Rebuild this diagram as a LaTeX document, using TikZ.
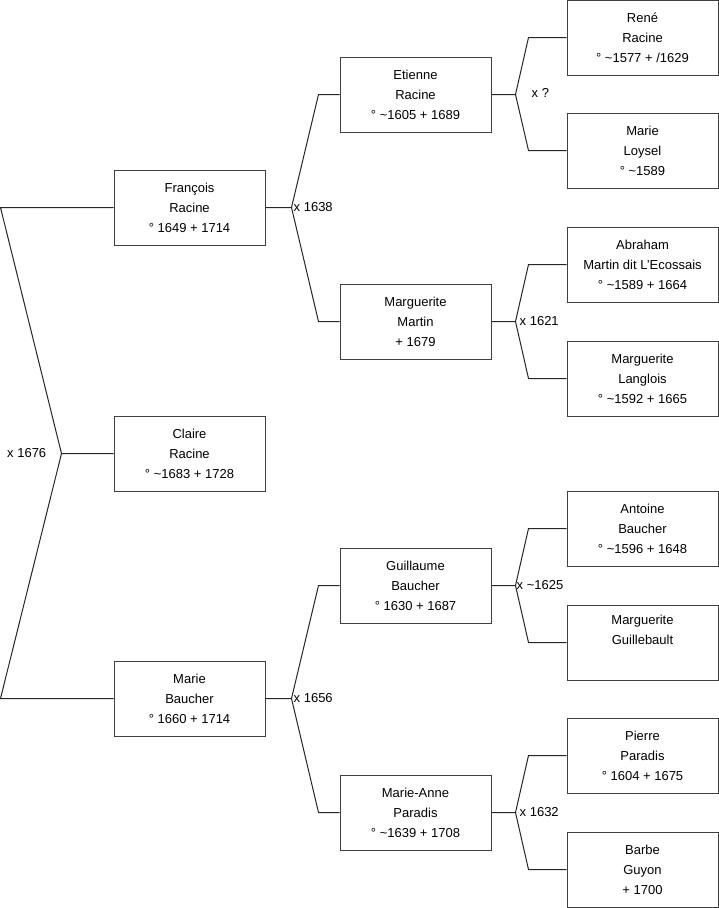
\documentclass[tikz,border=0pt]{standalone}
\usepackage{fontspec}
\setmainfont{Liberation Sans}
\usetikzlibrary{positioning}
\tikzset{
  person/.style={draw=black!75, line width=1pt, fill=white, minimum width=151pt, minimum height=75pt, inner sep=0pt, align=center, font=\fontsize{13}{20}\selectfont},
  link/.style={draw=black!85, line width=1pt},
  marriage/.style={anchor=west, inner sep=1pt, font=\fontsize{13}{16}\selectfont}
}

\begin{document}
\begin{tikzpicture}[x=1pt, y=-1pt]
  \useasboundingbox (0,0) rectangle (719,908);

  % Claire and her parents
  \node[person] (claire) at (189.5,453.5) {Claire\\Racine\\° \textasciitilde1683 + 1728};
  \node[person] (francois) at (189.5,207.5) {François\\Racine\\° 1649 + 1714};
  \node[person] (marie) at (189.5,698.5) {Marie\\Baucher\\° 1660 + 1714};

  % grandparents
  \node[person] (etienne) at (415.5,94.5) {Etienne\\Racine\\° \textasciitilde1605 + 1689};
  \node[person] (martin) at (415.5,321.5) {Marguerite\\Martin\\+ 1679};
  \node[person] (guillaume) at (415.5,585.5) {Guillaume\\Baucher\\° 1630 + 1687};
  \node[person] (marieanne) at (415.5,812.5) {Marie-Anne\\Paradis\\° \textasciitilde1639 + 1708};

  % great-grandparents
  \node[person] (rene) at (642.5,37.5) {René\\Racine\\° \textasciitilde1577 + /1629};
  \node[person] (loysel) at (642.5,150.5) {Marie\\Loysel\\° \textasciitilde1589};
  \node[person] (abraham) at (642.5,264.5) {Abraham\\Martin dit L'Ecossais\\° \textasciitilde1589 + 1664};
  \node[person] (langlois) at (642.5,378.5) {Marguerite\\Langlois\\° \textasciitilde1592 + 1665};
  \node[person] (antoine) at (642.5,528.5) {Antoine\\Baucher\\° \textasciitilde1596 + 1648};
  \node[person] (guillebault) at (642.5,642.5) {Marguerite\\Guillebault\\\strut};
  \node[person] (pierre) at (642.5,755.5) {Pierre\\Paradis\\° 1604 + 1675};
  \node[person] (guyon) at (642.5,869.5) {Barbe\\Guyon\\+ 1700};

  % marriage junctions
  \coordinate (jclaire) at ([xshift=-52pt]claire.west);
  \coordinate (jfrancois) at ([xshift=26pt]francois.east);
  \coordinate (jmarie) at ([xshift=26pt]marie.east);
  \coordinate (jetienne) at ([xshift=24pt]etienne.east);
  \coordinate (jmartin) at ([xshift=24pt]martin.east);
  \coordinate (jguillaume) at ([xshift=24pt]guillaume.east);
  \coordinate (jmarieanne) at ([xshift=24pt]marieanne.east);

  \node[marriage] (m1676) at ([xshift=6pt]claire.west -| 0,0) {x 1676};
  \node[marriage] (m1638) at ([xshift=1pt]jfrancois) {x 1638};
  \node[marriage] (m1656) at ([xshift=1pt]jmarie) {x 1656};
  \node[marriage] (mqq) at ([xshift=15pt,yshift=1.5pt]jetienne) {x ?};
  \node[marriage] (m1621) at ([xshift=3pt]jmartin) {x 1621};
  \node[marriage] (m1625) at ([xshift=0pt]jguillaume) {x \textasciitilde1625};
  \node[marriage] (m1632) at ([xshift=3pt]jmarieanne) {x 1632};

  % connectors
  \draw[link] (claire.west) -- (jclaire) -- ([xshift=-113pt]francois.west) -- (francois.west);
  \draw[link] (jclaire) -- ([xshift=-113pt]marie.west) -- (marie.west);

  \draw[link] (francois.east) -- (jfrancois) -- ([xshift=-21pt]etienne.west) -- (etienne.west);
  \draw[link] (jfrancois) -- ([xshift=-21pt]martin.west) -- (martin.west);
  \draw[link] (marie.east) -- (jmarie) -- ([xshift=-21pt]guillaume.west) -- (guillaume.west);
  \draw[link] (jmarie) -- ([xshift=-21pt]marieanne.west) -- (marieanne.west);

  \draw[link] (etienne.east) -- (jetienne) -- ([xshift=-38pt]rene.west) -- (rene.west);
  \draw[link] (jetienne) -- ([xshift=-38pt]loysel.west) -- (loysel.west);
  \draw[link] (martin.east) -- (jmartin) -- ([xshift=-38pt]abraham.west) -- (abraham.west);
  \draw[link] (jmartin) -- ([xshift=-38pt]langlois.west) -- (langlois.west);
  \draw[link] (guillaume.east) -- (jguillaume) -- ([xshift=-38pt]antoine.west) -- (antoine.west);
  \draw[link] (jguillaume) -- ([xshift=-38pt]guillebault.west) -- (guillebault.west);
  \draw[link] (marieanne.east) -- (jmarieanne) -- ([xshift=-38pt]pierre.west) -- (pierre.west);
  \draw[link] (jmarieanne) -- ([xshift=-38pt]guyon.west) -- (guyon.west);
\end{tikzpicture}
\end{document}
